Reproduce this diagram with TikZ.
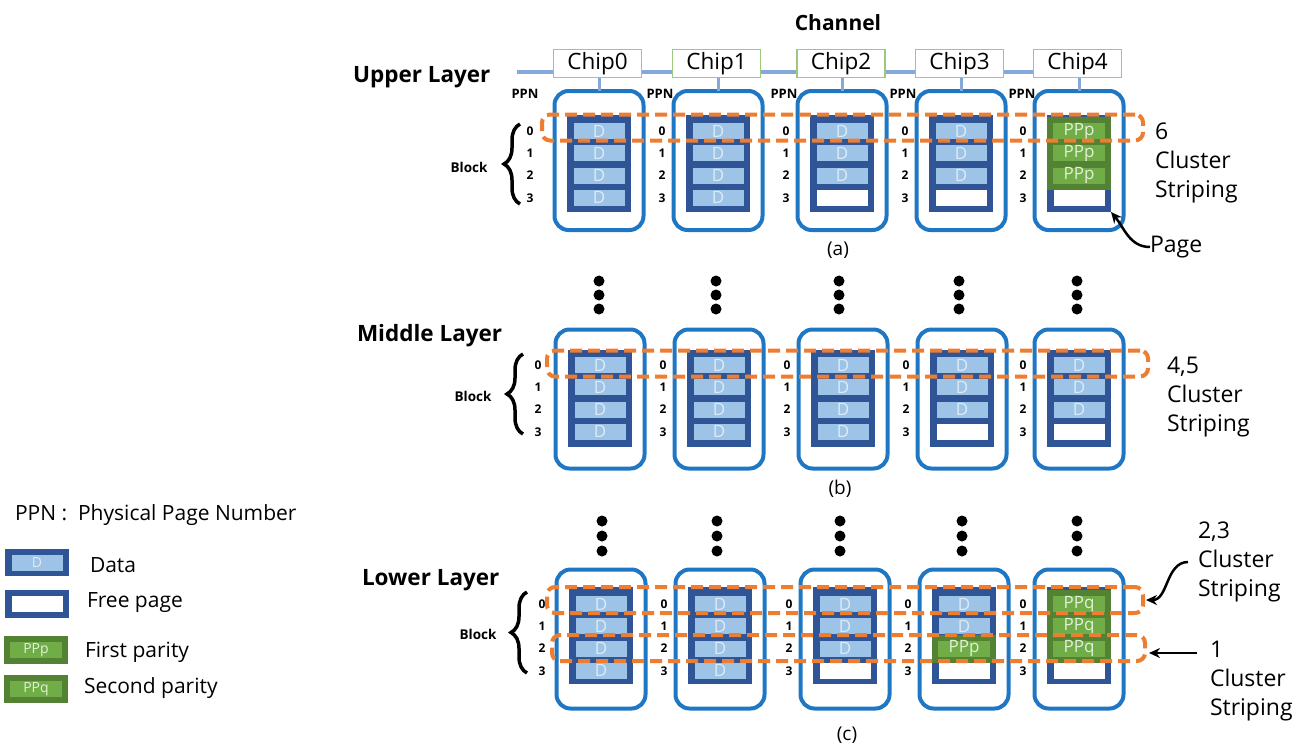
\documentclass[tikz,border=0pt]{standalone}
\usepackage{fontspec}
\setmainfont{Open Sans}
\usepackage{tikz}
\usetikzlibrary{arrows.meta,decorations.pathreplacing}

\definecolor{unitblue}{HTML}{1F77C4}
\definecolor{blkblue}{HTML}{2F5597}
\definecolor{pageblue}{HTML}{9DC3E6}
\definecolor{dtext}{HTML}{DEEBF7}
\definecolor{chanblue}{HTML}{84A9D9}
\definecolor{chipgreen}{HTML}{9CC97E}
\definecolor{stripeorange}{HTML}{ED7D31}
\definecolor{pardark}{HTML}{548235}
\definecolor{parlight}{HTML}{70AD47}
\definecolor{ptext}{HTML}{E2F0D9}

\begin{document}
\begin{tikzpicture}[
		x=1pt, y=-1pt,
		every node/.style={inner sep=0pt, outer sep=0pt},
		chipbox/.style={draw=chipgreen, fill=white, line width=1.6pt, minimum width=88pt, minimum height=28pt, font=\fontsize{22.5}{22.5}\selectfont},
		unit/.style={draw=unitblue, line width=4pt, rounded corners=14pt, minimum width=89pt, minimum height=139pt},
		blk/.style={fill=blkblue, minimum width=64pt, minimum height=97pt},
		pgbase/.style={minimum width=51pt, minimum height=16pt, font=\fontsize{17}{17}\selectfont},
		pgD/.style={pgbase, fill=pageblue, text=dtext, node contents=D},
		pgF/.style={pgbase, fill=white, node contents={}},
		pgP/.style={pgbase, fill=parlight, draw=pardark, line width=6pt, minimum width=58pt, minimum height=22pt, text=ptext, node contents=PPp},
		pgQ/.style={pgbase, fill=parlight, draw=pardark, line width=6pt, minimum width=58pt, minimum height=22pt, text=ptext, node contents=PPq},
		stripebox/.style={draw=stripeorange, line width=4pt, dash pattern=on 12pt off 6pt, rounded corners=8pt, minimum height=26pt},
		ppnlbl/.style={font=\bfseries\fontsize{13}{13}\selectfont},
		numlbl/.style={font=\bfseries\fontsize{12}{12}\selectfont},
		lyrlbl/.style={anchor=west, font=\bfseries\fontsize{22.5}{22.5}\selectfont},
		blklbl/.style={font=\bfseries\fontsize{13.5}{13.5}\selectfont},
		brc/.style={decorate, decoration={brace, amplitude=16pt}, line width=3.5pt},
		capt/.style={font=\fontsize{19}{19}\selectfont},
		sidelbl/.style={anchor=west, align=left, font=\fontsize{23}{29}\selectfont},
		legtxt/.style={anchor=west, font=\fontsize{21}{21}\selectfont},
		stub/.style={draw=chanblue, line width=3pt},
		pointer/.style={-{Stealth[length=11pt, width=10pt]}, line width=2.5pt}
	]
  \fill[white] (0,0) rectangle (1316,748);
  \useasboundingbox (0,0) rectangle (1316,748);

  % channel and chips
  \node (chan_lbl) [font=\bfseries\fontsize{21}{21}\selectfont] at (838,23) {Channel};
  \coordinate (ch_in) at (517,72);
  \coordinate (ch_out) at (1040,72);
  \draw[chanblue, line width=4pt] (ch_in) -- (ch_out);
  \foreach \col/\xc in {0/597.5, 1/716.5, 2/841, 3/959.5, 4/1077.5}
    \node[chipbox] (chip_\col) at (\xc,63.5) {Chip\col};

  % upper layer
  \node[lyrlbl] (lyr_a) at (353,77) {Upper Layer};
  \foreach \col/\xc/\nx/\px/\ka/\kb/\kc/\kd in {0/599/530/525/D/D/D/D, 1/718/662/660/D/D/D/D, 2/842/786/784/D/D/D/F, 3/961/905/903/D/D/D/F, 4/1079/1023/1022/P/P/P/F}{
    \node[unit] (ua_\col) at (\xc,160.5) {};
    \node[blk] (ub_\col) at (\xc,163.5) {};
    \foreach \row/\kind in {0/\ka, 1/\kb, 2/\kc, 3/\kd}{
      \node (up_\col_\row) at (\xc,131+22.3*\row) [pg\kind];
      \node[numlbl] (un_\col_\row) at (\nx,131+22.3*\row) {\row};
    }
    \node[ppnlbl] (ppn_\col) at (\px,94) {PPN};
    \draw[stub] (chip_\col.south -| ua_\col.north) -- (ua_\col.north);
  }
  \coordinate (brc_a_lo) at (520,204);
  \coordinate (brc_a_hi) at (520,124);
  \draw[brc] (brc_a_lo) -- (brc_a_hi);
  \node[blklbl] (blk_a) at (469,167) {Block};
  \node[stripebox, minimum width=601pt] (str_a) at (842.5,127.5) {};
  \node[sidelbl] (lbl_a) at (1155,163) {6\\Cluster\\Striping};
  \node[sidelbl] (page_lbl) at (1150,247) {Page};
  \draw[pointer] (page_lbl.west) to[out=180, in=-50] (ub_4.south east);
  \node[capt] (cap_a) at (838,250) {(a)};

  % middle layer
  \foreach \xc in {599, 716, 839, 959, 1077}
    \foreach \yd in {281, 295, 309}
      \fill (\xc,\yd) circle (5.5pt);
  \node[lyrlbl] (lyr_b) at (357,336) {Middle Layer};
  \foreach \col/\xc/\nx/\ka/\kb/\kc/\kd in {0/600/538/D/D/D/D, 1/719/663/D/D/D/D, 2/843/787/D/D/D/D, 3/962/906/D/D/D/F, 4/1079/1023/D/D/D/F}{
    \node[unit] (ma_\col) at (\xc,399) {};
    \node[blk] (mb_\col) at (\xc,398.5) {};
    \foreach \row/\kind in {0/\ka, 1/\kb, 2/\kc, 3/\kd}{
      \node (mp_\col_\row) at (\xc,365+22.3*\row) [pg\kind];
      \node[numlbl] (mn_\col_\row) at (\nx,365+22.3*\row) {\row};
    }
  }
  \coordinate (brc_b_lo) at (523,434);
  \coordinate (brc_b_hi) at (523,354);
  \draw[brc] (brc_b_lo) -- (brc_b_hi);
  \node[blklbl] (blk_b) at (473,396) {Block};
  \node[stripebox, minimum width=601pt] (str_b) at (847.5,363.5) {};
  \node[sidelbl] (lbl_b) at (1167,397) {4,5\\Cluster\\Striping};
  \node[capt] (cap_b) at (840,489) {(b)};

  % lower layer
  \foreach \xc in {602, 717, 840, 962, 1077}
    \foreach \yd in {521, 536, 551}
      \fill (\xc,\yd) circle (5.5pt);
  \node[lyrlbl] (lyr_c) at (362,580) {Lower Layer};
  \foreach \col/\xc/\nx/\ka/\kb/\kc/\kd in {0/601/542/D/D/D/D, 1/720/664/D/D/D/D, 2/845/789/D/D/D/F, 3/964/908/D/D/P/F, 4/1079/1023/Q/Q/Q/F}{
    \node[unit] (la_\col) at (\xc,639) {};
    \node[blk] (lb_\col) at (\xc,635.5) {};
    \foreach \row/\kind in {0/\ka, 1/\kb, 2/\kc, 3/\kd}{
      \node (lp_\col_\row) at (\xc,604+22.3*\row) [pg\kind];
      \node[numlbl] (ln_\col_\row) at (\nx,604+22.3*\row) {\row};
    }
  }
  \coordinate (brc_c_lo) at (527,673);
  \coordinate (brc_c_hi) at (527,592);
  \draw[brc] (brc_c_lo) -- (brc_c_hi);
  \node[blklbl] (blk_c) at (478,634) {Block};
  \node[stripebox, minimum width=596pt] (str_ca) at (845,600) {};
  \node[stripebox, minimum width=593pt] (str_cb) at (848.5,648) {};
  \node[sidelbl] (lbl_ca) at (1198,562) {2,3\\Cluster\\Striping};
  \node[sidelbl] (lbl_cb) at (1210,681) {1\\Cluster\\Striping};
  \draw[pointer] ([xshift=-10pt]lbl_ca.west) to[out=180, in=0] ([xshift=3pt]str_ca.east);
  \coordinate (arr_cb) at (1197,653);
  \draw[pointer] (arr_cb) -- ([xshift=4pt]arr_cb -| str_cb.east);
  \node[capt] (cap_c) at (847,735) {(c)};

  % legend
  \node[legtxt] (leg_ppn) at (15,515) {PPN :~ Physical Page Number};
  \node[blk, minimum height=27pt] (leg_d_box) at (37,562.5) {};
  \node (leg_d) at (37,562.5) [pgD, font=\fontsize{14}{14}\selectfont];
  \node[legtxt] (leg_d_txt) at (90,565) {Data};
  \node[blk, minimum height=28pt] (leg_f_box) at (37,603.5) {};
  \node (leg_f) at (37,603.5) [pgF];
  \node[legtxt] (leg_f_txt) at (87,603) {Free page};
  \node (leg_p) at (36,650) [pgP, font=\fontsize{14}{14}\selectfont];
  \node[legtxt] (leg_p_txt) at (85,652) {First parity};
  \node (leg_q) at (36,689) [pgQ, font=\fontsize{14}{14}\selectfont];
  \node[legtxt] (leg_q_txt) at (84,688) {Second parity};
\end{tikzpicture}
\end{document}
